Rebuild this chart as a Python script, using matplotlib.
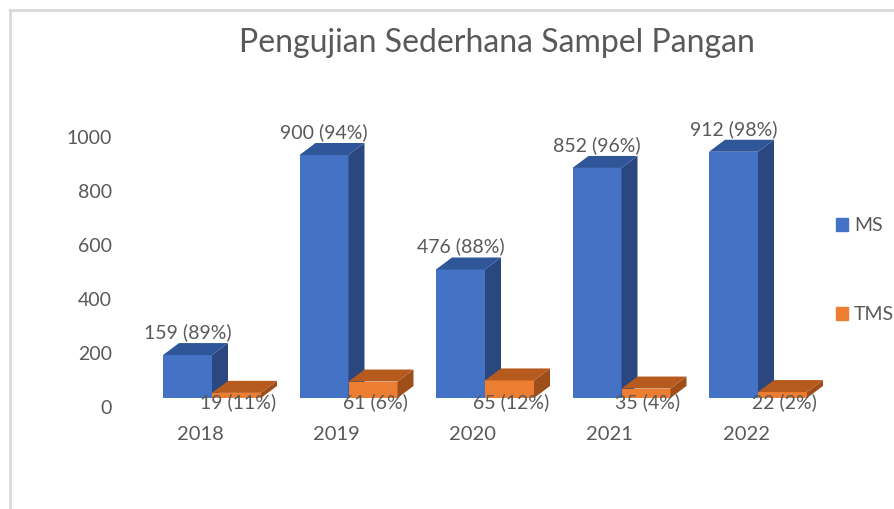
import numpy as np
import matplotlib.pyplot as plt
from matplotlib.patches import Polygon, Patch
from matplotlib.lines import Line2D

years = ["2018", "2019", "2020", "2021", "2022"]
ms = [159, 900, 476, 852, 912]
tms = [19, 61, 65, 35, 22]
ms_pct = [89, 94, 88, 96, 98]
tms_pct = [11, 6, 12, 4, 2]
y_ticks = [0, 200, 400, 600, 800, 1000]

plt.rcParams["font.family"] = ["Lato", "DejaVu Sans"]
grey = "#595959"
blue = ("#4472C4", "#30569A", "#2A477F")      # front, top, side
orange = ("#ED7D31", "#B65A1E", "#9E4E18")

W, H = 895, 509
fig = plt.figure(figsize=(W / 100, H / 100), dpi=100)
ax = fig.add_axes([0, 0, 1, 1])
ax.axis("off")

# one category slot = 136.5 px, 0.27 px per unit, base line at 398 px from top
slot, scale, base_px, cx0 = 136.5, 0.27, 398, 212
ax.set_xlim(-cx0 / slot, (W - cx0) / slot)
ax.set_ylim((base_px - H) / scale, base_px / scale)

bw = 49 / slot          # bar width
dx = 16 / slot          # depth offset of the 3d faces
dy = 12 / scale

x = np.arange(len(years))


def bars3d(lefts, heights, colors):
    ax.bar(lefts, heights, width=bw, align="edge", color=colors[0], linewidth=0)
    for x0, h in zip(lefts, heights):
        top = [(x0, h), (x0 + bw, h), (x0 + bw + dx, h + dy), (x0 + dx, h + dy)]
        side = [(x0 + bw, 0), (x0 + bw + dx, dy), (x0 + bw + dx, h + dy), (x0 + bw, h)]
        ax.add_patch(Polygon(side, closed=True, color=colors[2], lw=0))
        ax.add_patch(Polygon(top, closed=True, color=colors[1], lw=0))


bars3d(x - bw, ms, blue)
bars3d(x, tms, orange)

pt = 0.72  # px -> points at 100 dpi
for i in x:
    ax.annotate(f"{ms[i]} ({ms_pct[i]}%)", (i - bw / 2, ms[i]), xytext=(0, 23 * pt),
                textcoords="offset points", ha="center", va="center", fontsize=14, color=grey)
    ax.annotate(f"{tms[i]} ({tms_pct[i]}%)", (i + bw / 2, 0), xytext=(2 * pt, -4 * pt),
                textcoords="offset points", ha="center", va="center", fontsize=14, color=grey)
    ax.annotate(years[i], (i, 0), xytext=(-12 * pt, -37 * pt), textcoords="offset points",
                ha="center", va="center", fontsize=14.5, color=grey)

for v in y_ticks:
    ax.annotate(str(v), (112 / W, v), xycoords=("axes fraction", "data"),
                xytext=(0, -10 * pt), textcoords="offset points",
                ha="right", va="center", fontsize=14, color=grey)

fig.text(497 / W, 1 - 43 / H, "Pengujian Sederhana Sampel Pangan", ha="center", va="center",
         fontsize=23, color=grey)

handles = [Patch(color=blue[0], label="MS"), Patch(color=orange[0], label="TMS")]
fig.legend(handles=handles, loc="center left", bbox_to_anchor=(826 / W, 1 - 270 / H),
           frameon=False, fontsize=14, handlelength=0.65, handleheight=0.65,
           handletextpad=0.3, labelspacing=3.7, borderpad=0, labelcolor=grey)

# chart area border
fig.add_artist(Line2D([10 / W, 10 / W], [0, 1 - 9.5 / H], color="#D9D9D9", lw=2))
fig.add_artist(Line2D([10 / W, 1], [1 - 9.5 / H, 1 - 9.5 / H], color="#D9D9D9", lw=2))

fig.savefig("out.png", dpi=100)
